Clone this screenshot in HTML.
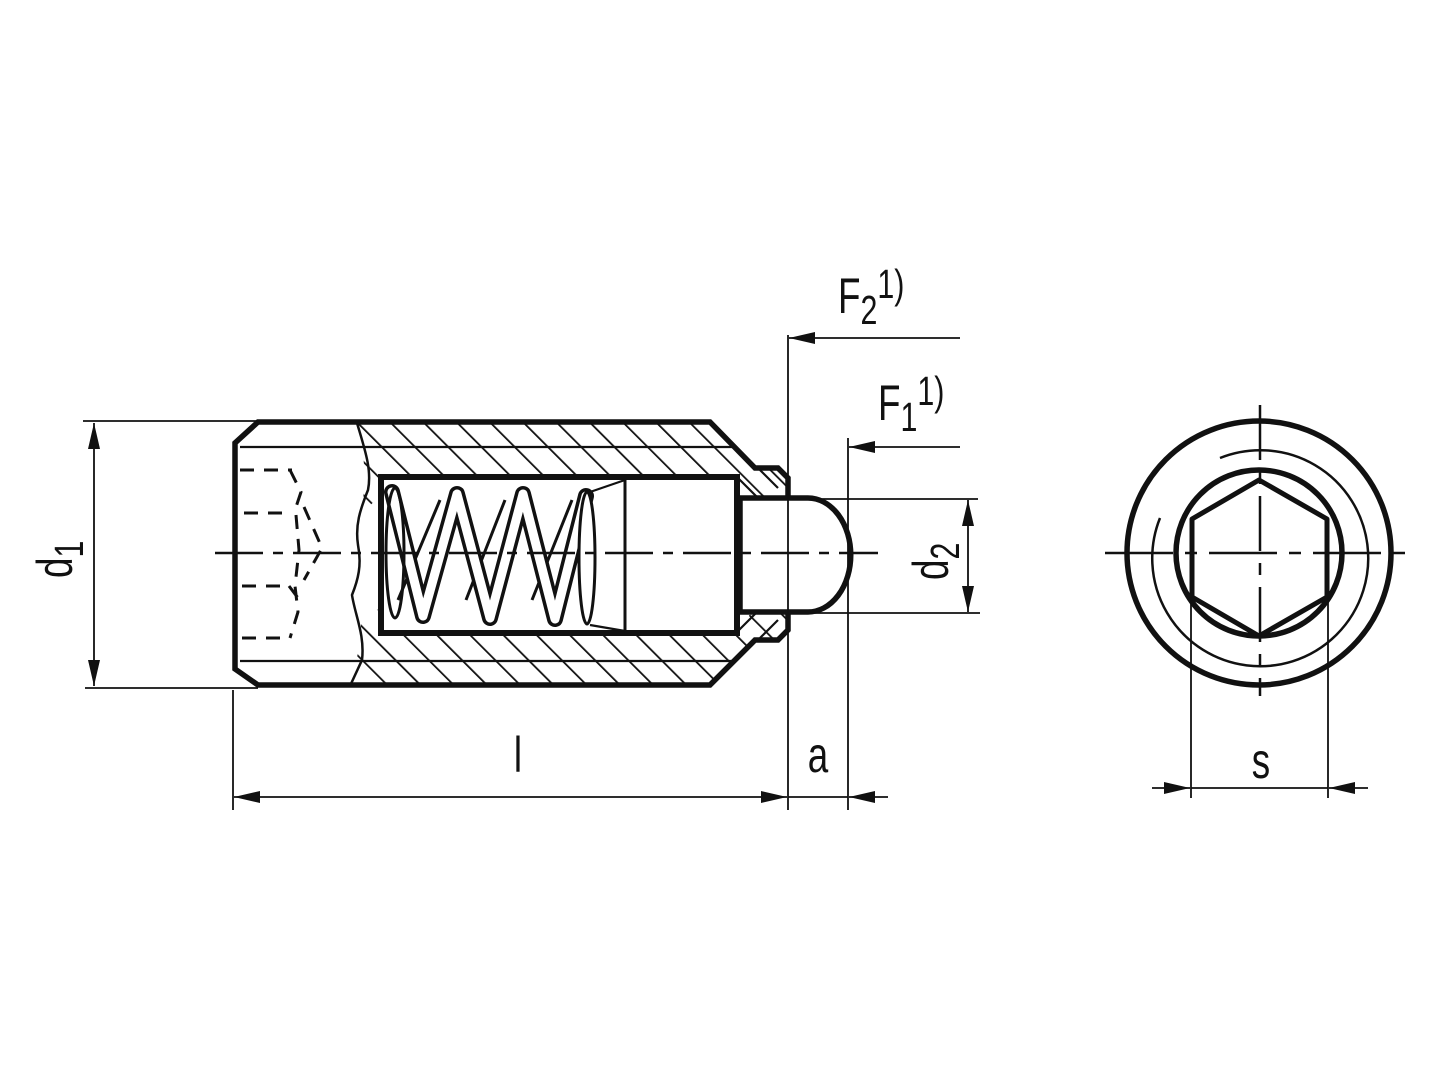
<!DOCTYPE html>
<html><head><meta charset="utf-8"><style>
html,body{margin:0;padding:0;background:#fff}
svg{display:block}
text{font-family:"Liberation Sans",sans-serif;fill:#111}
</style></head><body>
<svg width="1440" height="1080" viewBox="0 0 1440 1080" xmlns="http://www.w3.org/2000/svg">
<defs>
<clipPath id="ht"><path d="M357,423 L710,423 L755,468 L778,468 L788,478 L788,497 L752,497 L735,477 L380,477 L380,500 C368,500 362,520 360,540 C362,500 370,470 357,423 Z"/></clipPath>
<clipPath id="hb"><path d="M350,685 L710,685 L755,640 L778,640 L788,630 L788,612 L752,612 L735,633 L380,633 L380,610 C368,610 358,590 360,570 C362,610 364,640 350,685 Z"/></clipPath>
<pattern id="hat" width="23.5" height="23.5" patternUnits="userSpaceOnUse" patternTransform="rotate(-45)">
<line x1="0" y1="0" x2="0" y2="24" stroke="#111" stroke-width="3.6"/>
</pattern>
<marker id="ar" viewBox="0 0 26 12" refX="26" refY="6" markerWidth="26" markerHeight="12" markerUnits="userSpaceOnUse" orient="auto"><path d="M0,0 L26,6 L0,12 Z" fill="#111"/></marker>
</defs>

<g fill="none" stroke="#111">
<rect x="340" y="415" width="460" height="90" fill="url(#hat)" stroke="none" clip-path="url(#ht)"/>
<rect x="340" y="605" width="460" height="90" fill="url(#hat)" stroke="none" clip-path="url(#hb)"/>

<line x1="240" y1="447" x2="735" y2="447" stroke-width="2.2"/>
<line x1="240" y1="661" x2="735" y2="661" stroke-width="2.2"/>

<path d="M788,497 L788,478 L778,468 L755,468 L710,422 L258,422 L235,443 L235,669 L258,685 L710,685 L755,640 L778,640 L788,630 L788,612" stroke-width="5.5" stroke-linejoin="miter"/>
<path d="M737,477 L757,497 M737,632 L757,612 M760,470 L778,488 M760,638 L778,620" stroke-width="2.2"/>

<path d="M357,423 C365,450 372,470 368,490 C360,510 355,525 358,545 C362,565 358,580 352,595 C355,615 365,635 362,660 L350,686" stroke-width="2.5"/>

<rect x="381" y="477" width="356" height="156" stroke-width="6" fill="#fff"/>
<line x1="625" y1="479" x2="625" y2="631" stroke-width="3"/>
<path d="M590,492 L625,480 M590,625 L625,631" stroke-width="2.2"/>

<path d="M740,498 L808,498 A42,56 0 0 1 808,612 L740,612 Z" stroke-width="5.5" fill="#fff"/>

<path d="M398,600 L440,500 M466,600 L505,500 M532,600 L572,500" stroke-width="3"/>
<polyline points="392,492 423,616 457,494 490,618 523,494 555,619 586,496" stroke-width="16" stroke-linejoin="round" stroke-linecap="round"/>
<polyline points="392,492 423,616 457,494 490,618 523,494 555,619 586,496" stroke="#fff" stroke-width="9" stroke-linejoin="round" stroke-linecap="round"/>
<ellipse cx="395" cy="553" rx="9" ry="65" stroke-width="3" fill="none"/>
<ellipse cx="587" cy="558" rx="8" ry="66" stroke-width="3" fill="#fff"/>

<g stroke-width="3" stroke-dasharray="14,10">
<line x1="240" y1="470" x2="292" y2="470"/>
<line x1="244" y1="513" x2="290" y2="513"/>
<line x1="242" y1="586" x2="289" y2="586"/>
<line x1="242" y1="638" x2="290" y2="638"/>
<path d="M290,470 L301,492 L294,513 M304,507 L322,548 L304,580 M296,515 L299,550 L295,586 L298,612 L290,638 M289,586 L298,598"/>
</g>

<line x1="215" y1="553" x2="878" y2="553" stroke-width="2.5" stroke-dasharray="48,10,10,10"/>

<g stroke-width="1.8">
<line x1="83" y1="421" x2="258" y2="421"/>
<line x1="85" y1="688" x2="258" y2="688"/>
<line x1="94" y1="555" x2="94" y2="423" marker-end="url(#ar)"/>
<line x1="94" y1="555" x2="94" y2="686" marker-end="url(#ar)"/>
<line x1="233" y1="690" x2="233" y2="810"/>
<line x1="788" y1="335" x2="788" y2="810"/>
<line x1="848" y1="438" x2="848" y2="810"/>
<line x1="510" y1="797" x2="234" y2="797" marker-end="url(#ar)"/>
<line x1="510" y1="797" x2="787" y2="797" marker-end="url(#ar)"/>
<line x1="788" y1="797" x2="848" y2="797"/>
<line x1="888" y1="797" x2="849" y2="797" marker-end="url(#ar)"/>
<line x1="960" y1="338" x2="789" y2="338" marker-end="url(#ar)"/>
<line x1="960" y1="447" x2="849" y2="447" marker-end="url(#ar)"/>
<line x1="808" y1="499" x2="978" y2="499"/>
<line x1="808" y1="613" x2="980" y2="613"/>
<line x1="968" y1="556" x2="968" y2="500" marker-end="url(#ar)"/>
<line x1="968" y1="556" x2="968" y2="612" marker-end="url(#ar)"/>
</g>

<circle cx="1259" cy="553" r="132" stroke-width="5.5"/>
<circle cx="1259" cy="553" r="83" stroke-width="5.5"/>
<path d="M1220,458 A108,108 0 1 1 1160,518" stroke-width="2.5"/>
<polygon points="1259,480 1327,519 1327,597 1259,636 1192,597 1192,519" stroke-width="5" stroke-linejoin="round"/>
<line x1="1260" y1="405" x2="1260" y2="696" stroke-width="2.5" stroke-dasharray="55,12,12,12"/>
<line x1="1105" y1="553" x2="1410" y2="553" stroke-width="2.5" stroke-dasharray="68,12,12,12"/>
<g stroke-width="1.8">
<line x1="1191" y1="597" x2="1191" y2="798"/>
<line x1="1328" y1="597" x2="1328" y2="798"/>
<line x1="1152" y1="788" x2="1190" y2="788" marker-end="url(#ar)"/>
<line x1="1368" y1="788" x2="1329" y2="788" marker-end="url(#ar)"/>
<line x1="1191" y1="788" x2="1328" y2="788"/>
</g>
</g>

<text transform="translate(518,772) scale(0.8,1.08)" font-size="46" text-anchor="middle">l</text>
<text transform="translate(818,772) scale(0.8,1.08)" font-size="46" text-anchor="middle">a</text>
<text transform="translate(1261,778) scale(0.8,1.08)" font-size="46" text-anchor="middle">s</text>
<text transform="translate(838,313) scale(0.8,1.08)" font-size="46">F<tspan font-size="38" dy="10">2</tspan><tspan font-size="38" dy="-24">1)</tspan></text>
<text transform="translate(878,420) scale(0.8,1.08)" font-size="46">F<tspan font-size="38" dy="10">1</tspan><tspan font-size="38" dy="-24">1)</tspan></text>
<text transform="translate(72,578) rotate(-90) scale(0.8,1.08)" font-size="46">d<tspan font-size="38" dy="10">1</tspan></text>
<text transform="translate(948,580) rotate(-90) scale(0.8,1.08)" font-size="46">d<tspan font-size="38" dy="10">2</tspan></text>
</svg>
</body></html>
